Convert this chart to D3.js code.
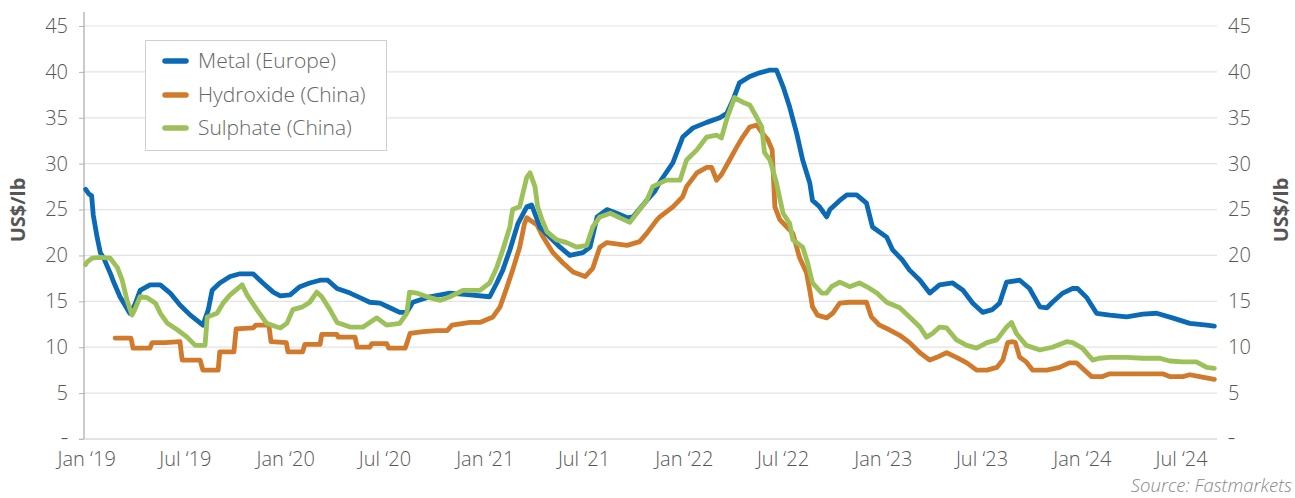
<!DOCTYPE html>
<html>
<head>
<meta charset="utf-8">
<script src="https://cdn.jsdelivr.net/npm/d3@7"></script>
<style>
  html, body { margin: 0; padding: 0; background: #fff; }
  svg { display: block; font-family: "Open Sans", sans-serif; }
</style>
</head>
<body>
<svg id="chart" width="1295" height="498"></svg>
<script>
// ---------------- DATA ----------------
const seriesNames = ["Metal (Europe)", "Hydroxide (China)", "Sulphate (China)"];
const seriesColors = ["#0a6ab6", "#d17a2b", "#9dc159"];

const metalEurope = [
  ["2018-12-31",27.2],["2019-01-06",26.7],["2019-01-11",26.5],["2019-01-14",24.4],["2019-01-21",22.0],
  ["2019-01-27",20.3],["2019-02-03",19.6],["2019-02-16",17.8],["2019-02-19",17.3],["2019-03-04",15.5],
  ["2019-03-22",13.7],["2019-03-31",14.6],["2019-04-10",16.2],["2019-04-28",16.8],["2019-05-17",16.8],
  ["2019-06-04",15.9],["2019-06-22",14.6],["2019-07-11",13.5],["2019-07-30",12.6],["2019-08-03",12.4],
  ["2019-08-13",14.1],["2019-08-20",16.2],["2019-09-03",17.0],["2019-09-22",17.7],["2019-10-10",18.0],
  ["2019-11-03",18.0],["2019-11-21",17.0],["2019-12-10",16.0],["2019-12-23",15.6],["2020-01-10",15.7],
  ["2020-01-28",16.6],["2020-02-15",17.0],["2020-03-05",17.3],["2020-03-19",17.3],["2020-04-05",16.4],
  ["2020-04-29",15.9],["2020-05-17",15.4],["2020-06-04",14.9],["2020-06-23",14.8],["2020-07-11",14.3],
  ["2020-07-29",13.8],["2020-08-11",13.8],["2020-08-22",14.9],["2020-09-22",15.5],["2020-10-29",15.9],
  ["2020-12-05",15.7],["2021-01-10",15.5],["2021-01-23",17.0],["2021-02-03",18.4],["2021-02-16",20.6],
  ["2021-03-03",23.5],["2021-03-19",25.3],["2021-03-28",25.5],["2021-04-12",23.1],["2021-04-30",22.0],
  ["2021-05-19",20.9],["2021-06-06",20.0],["2021-06-30",20.3],["2021-07-13",20.9],["2021-07-26",24.2],
  ["2021-08-13",25.0],["2021-08-31",24.6],["2021-09-19",24.1],["2021-09-30",24.2],["2021-10-25",26.0],
  ["2021-11-09",27.0],["2021-11-18",28.0],["2021-12-12",30.1],["2021-12-30",32.9],["2022-01-18",33.9],
  ["2022-02-12",34.5],["2022-03-08",35.0],["2022-03-21",35.5],["2022-04-01",36.9],["2022-04-13",38.8],
  ["2022-05-02",39.5],["2022-05-20",39.9],["2022-06-08",40.2],["2022-06-20",40.2],["2022-07-02",38.4],
  ["2022-07-14",36.2],["2022-07-27",33.3],["2022-08-07",30.4],["2022-08-20",27.9],["2022-08-25",26.0],
  ["2022-09-07",25.3],["2022-09-20",24.2],["2022-09-26",25.0],["2022-10-14",26.0],["2022-10-27",26.6],
  ["2022-11-14",26.6],["2022-12-02",25.7],["2022-12-13",23.1],["2023-01-08",22.0],["2023-01-19",20.6],
  ["2023-02-06",19.5],["2023-02-19",18.4],["2023-03-10",17.3],["2023-03-28",15.9],["2023-04-15",16.8],
  ["2023-05-09",17.0],["2023-05-28",16.2],["2023-06-15",14.8],["2023-07-03",13.8],["2023-07-21",14.1],
  ["2023-08-03",14.8],["2023-08-16",17.1],["2023-09-09",17.3],["2023-09-27",16.4],["2023-10-16",14.4],
  ["2023-10-29",14.3],["2023-11-08",14.9],["2023-11-27",15.9],["2023-12-15",16.4],["2023-12-24",16.4],
  ["2024-01-10",15.4],["2024-01-28",13.7],["2024-02-21",13.5],["2024-03-23",13.3],["2024-04-22",13.6],
  ["2024-05-17",13.7],["2024-06-15",13.2],["2024-07-17",12.6],["2024-08-17",12.4],["2024-08-31",12.3]
];

const hydroxideChina = [
  ["2019-02-23",11.0],["2019-03-24",11.0],["2019-03-28",9.9],["2019-04-28",9.9],["2019-05-02",10.5],
  ["2019-05-26",10.5],["2019-06-22",10.6],["2019-06-26",8.6],["2019-07-29",8.6],["2019-08-03",7.5],
  ["2019-08-31",7.5],["2019-09-03",9.5],["2019-09-29",9.5],["2019-10-03",12.0],["2019-11-03",12.1],
  ["2019-11-08",12.4],["2019-12-02",12.4],["2019-12-06",10.6],["2020-01-03",10.5],["2020-01-06",9.5],
  ["2020-02-02",9.5],["2020-02-06",10.3],["2020-03-05",10.3],["2020-03-08",11.4],["2020-04-05",11.4],
  ["2020-04-07",11.1],["2020-05-08",11.1],["2020-05-12",10.0],["2020-06-04",10.0],["2020-06-08",10.4],
  ["2020-07-05",10.4],["2020-07-09",9.9],["2020-08-08",9.9],["2020-08-17",11.5],["2020-09-10",11.7],
  ["2020-10-05",11.8],["2020-10-24",11.8],["2020-11-02",12.4],["2020-12-05",12.7],["2020-12-23",12.7],
  ["2021-01-16",13.3],["2021-01-29",14.4],["2021-02-11",16.6],["2021-02-21",18.4],["2021-03-06",20.9],
  ["2021-03-15",23.5],["2021-03-19",24.1],["2021-04-07",23.3],["2021-04-18",22.0],["2021-05-06",20.3],
  ["2021-05-24",19.2],["2021-06-12",18.2],["2021-07-04",17.7],["2021-07-18",18.6],["2021-07-31",20.9],
  ["2021-08-13",21.4],["2021-09-19",21.1],["2021-10-12",21.5],["2021-10-25",22.4],["2021-11-13",23.9],
  ["2021-11-18",24.2],["2021-12-12",25.3],["2021-12-30",26.4],["2022-01-06",27.5],["2022-01-25",29.0],
  ["2022-02-12",29.6],["2022-02-21",29.6],["2022-03-02",28.2],["2022-03-11",28.8],["2022-03-26",30.4],
  ["2022-04-08",31.8],["2022-04-19",32.9],["2022-05-02",34.0],["2022-05-15",34.2],["2022-05-24",33.4],
  ["2022-06-04",32.6],["2022-06-12",31.5],["2022-06-17",25.3],["2022-06-26",23.9],["2022-07-09",23.1],
  ["2022-07-20",22.4],["2022-08-01",19.8],["2022-08-14",18.1],["2022-08-20",16.2],["2022-08-25",14.4],
  ["2022-09-03",13.5],["2022-09-20",13.2],["2022-10-01",13.7],["2022-10-14",14.8],["2022-11-01",14.9],
  ["2022-12-02",14.9],["2022-12-11",13.3],["2022-12-26",12.4],["2023-01-13",11.9],["2023-02-01",11.3],
  ["2023-02-19",10.5],["2023-03-10",9.4],["2023-03-28",8.6],["2023-04-10",8.9],["2023-04-28",9.4],
  ["2023-05-16",8.9],["2023-06-04",8.3],["2023-06-22",7.5],["2023-07-11",7.5],["2023-07-29",7.8],
  ["2023-08-09",8.6],["2023-08-18",10.5],["2023-08-27",10.6],["2023-09-01",10.5],["2023-09-09",8.9],
  ["2023-09-21",8.4],["2023-10-03",7.5],["2023-10-29",7.5],["2023-11-21",7.8],["2023-12-09",8.3],
  ["2023-12-22",8.3],["2024-01-02",7.7],["2024-01-19",6.8],["2024-02-08",6.8],["2024-02-21",7.1],
  ["2024-05-28",7.1],["2024-06-10",6.8],["2024-07-04",6.8],["2024-07-17",7.0],["2024-08-04",6.8],
  ["2024-08-31",6.5]
];

const sulphateChina = [
  ["2018-12-31",19.0],["2019-01-03",19.3],["2019-01-12",19.7],["2019-01-27",19.8],["2019-02-14",19.7],
  ["2019-02-27",18.7],["2019-03-08",17.3],["2019-03-17",15.1],["2019-03-26",13.5],["2019-03-31",14.1],
  ["2019-04-10",15.5],["2019-04-23",15.4],["2019-05-08",14.8],["2019-05-17",13.7],["2019-05-30",12.6],
  ["2019-06-17",11.9],["2019-07-05",11.1],["2019-07-20",10.2],["2019-08-07",10.2],["2019-08-11",13.3],
  ["2019-08-29",13.7],["2019-09-09",14.8],["2019-09-22",15.7],["2019-10-14",16.8],["2019-10-23",15.7],
  ["2019-11-10",14.1],["2019-11-28",12.6],["2019-12-17",12.2],["2019-12-23",12.1],["2020-01-04",12.6],
  ["2020-01-15",14.1],["2020-02-02",14.4],["2020-02-15",14.9],["2020-02-28",16.0],["2020-03-08",15.5],
  ["2020-03-23",14.1],["2020-04-05",12.7],["2020-04-29",12.2],["2020-05-23",12.2],["2020-06-17",13.2],
  ["2020-07-05",12.4],["2020-07-29",12.6],["2020-08-11",13.7],["2020-08-16",16.0],["2020-08-29",15.9],
  ["2020-09-22",15.4],["2020-10-11",15.1],["2020-10-29",15.5],["2020-11-22",16.2],["2020-12-23",16.2],
  ["2021-01-10",17.0],["2021-01-23",18.7],["2021-02-03",20.6],["2021-02-16",23.1],["2021-02-21",25.0],
  ["2021-03-06",25.3],["2021-03-12",26.8],["2021-03-19",28.5],["2021-03-25",29.0],["2021-04-03",27.5],
  ["2021-04-08",25.3],["2021-04-16",23.9],["2021-04-25",22.6],["2021-05-13",21.7],["2021-05-31",21.4],
  ["2021-06-19",20.9],["2021-07-07",21.1],["2021-07-18",23.1],["2021-07-31",24.2],["2021-08-19",24.6],
  ["2021-09-06",24.1],["2021-09-24",23.6],["2021-10-12",25.0],["2021-10-25",26.0],["2021-11-05",27.5],
  ["2021-11-30",28.2],["2021-12-25",28.2],["2022-01-06",30.4],["2022-01-25",31.5],["2022-02-12",32.9],
  ["2022-03-02",33.1],["2022-03-11",32.8],["2022-03-22",35.1],["2022-04-04",37.2],["2022-04-19",36.7],
  ["2022-05-02",36.4],["2022-05-15",35.0],["2022-05-24",34.0],["2022-05-29",31.2],["2022-06-08",30.4],
  ["2022-06-20",27.9],["2022-07-02",24.6],["2022-07-14",23.5],["2022-07-20",21.7],["2022-08-07",20.9],
  ["2022-08-16",19.2],["2022-08-25",17.0],["2022-09-11",15.9],["2022-09-20",15.9],["2022-09-29",16.6],
  ["2022-10-14",17.1],["2022-11-01",16.6],["2022-11-19",17.0],["2022-12-08",16.4],["2022-12-21",15.9],
  ["2023-01-08",14.9],["2023-02-01",14.3],["2023-02-19",13.3],["2023-03-10",12.2],["2023-03-22",11.1],
  ["2023-04-02",11.5],["2023-04-15",12.2],["2023-04-28",12.1],["2023-05-16",10.8],["2023-06-04",10.2],
  ["2023-06-22",9.9],["2023-07-11",10.5],["2023-07-29",10.8],["2023-08-16",12.2],["2023-08-25",12.7],
  ["2023-09-03",11.5],["2023-09-21",10.2],["2023-10-16",9.7],["2023-11-08",10.0],["2023-12-04",10.6],
  ["2023-12-15",10.5],["2024-01-02",9.9],["2024-01-21",8.6],["2024-02-02",8.8],["2024-02-21",8.9],
  ["2024-03-23",8.9],["2024-04-22",8.8],["2024-05-23",8.8],["2024-06-10",8.5],["2024-07-04",8.4],
  ["2024-07-29",8.4],["2024-08-17",7.8],["2024-08-31",7.7]
];

const yTickValues = [0, 5, 10, 15, 20, 25, 30, 35, 40, 45];
const yTickLabels = ["–", "5", "10", "15", "20", "25", "30", "35", "40", "45"];
const xTickDates = ["2019-01-01","2019-07-01","2020-01-01","2020-07-01","2021-01-01","2021-07-01",
  "2022-01-01","2022-07-01","2023-01-01","2023-07-01","2024-01-01","2024-07-01"];
const xTickLabels = ["Jan ‘19","Jul ‘19","Jan ‘20","Jul ‘20","Jan ‘21","Jul ‘21",
  "Jan ‘22","Jul ‘22","Jan ‘23","Jul ‘23","Jan ‘24","Jul ‘24"];
const xDomain = ["2018-12-28", "2024-09-03"];
const axisTitle = "US$/lb";
const sourceText = "Source: Fastmarkets";

// ---------------- CHART ----------------
(function () {
const parse = d3.timeParse("%Y-%m-%d");
const svg = d3.select("#chart");
const pLeft = 84, pRight = 1216, pTop = 26, pBottom = 439;

const x = d3.scaleTime().domain(xDomain.map(parse)).range([pLeft, pRight]);
const y = d3.scaleLinear().domain([0, 45]).range([pBottom, pTop]);

const textColor = "#575757";
const fontSize = 20;
const fontWeight = 300;

function styleText(sel) {
  sel.attr("fill", textColor).style("font-size", fontSize + "px")
    .style("font-family", "'Open Sans', sans-serif").style("font-weight", fontWeight);
}

// gridlines
svg.append("g")
  .selectAll("line").data(yTickValues.filter(v => v > 0)).join("line")
  .attr("x1", pLeft).attr("x2", pRight + 1)
  .attr("y1", d => y(d)).attr("y2", d => y(d))
  .attr("stroke", "#e3e3e3").attr("stroke-width", 1.2);

// left axis
const yAxisL = d3.axisLeft(y).tickValues(yTickValues)
  .tickFormat((d, i) => yTickLabels[i]).tickSize(5).tickPadding(11);
const gL = svg.append("g").attr("transform", `translate(${pLeft},0)`).call(yAxisL);
gL.select(".domain").remove();
gL.selectAll(".tick line").attr("stroke", "#b5b5b5");
styleText(gL.selectAll(".tick text"));
svg.append("line").attr("x1", pLeft).attr("x2", pLeft).attr("y1", 12).attr("y2", pBottom)
  .attr("stroke", "#a8a8a8").attr("stroke-width", 1.2);

// right axis
const yAxisR = d3.axisRight(y).tickValues(yTickValues)
  .tickFormat((d, i) => yTickLabels[i]).tickSize(0).tickPadding(12);
const gR = svg.append("g").attr("transform", `translate(${pRight},0)`).call(yAxisR);
gR.select(".domain").remove();
styleText(gR.selectAll(".tick text"));

// smaller dash for the zero labels
[gL, gR].forEach(g => g.selectAll(".tick text").filter(d => d === 0)
  .style("font-size", "14px").style("font-weight", 400).attr("dy", "0.22em"));

// bottom axis
const xAxis = d3.axisBottom(x).tickValues(xTickDates.map(parse))
  .tickFormat((d, i) => xTickLabels[i]).tickSize(0).tickPadding(12.5);
const gB = svg.append("g").attr("transform", `translate(0,${pBottom})`).call(xAxis);
gB.select(".domain").remove();
styleText(gB.selectAll(".tick text"));
svg.append("line").attr("x1", pLeft - 5).attr("x2", pRight + 1).attr("y1", pBottom).attr("y2", pBottom)
  .attr("stroke", "#c8c8c8").attr("stroke-width", 1.2);

// axis titles
svg.append("text").attr("transform", "translate(25,210) rotate(-90)")
  .attr("text-anchor", "middle").attr("fill", "#555")
  .style("font-size", "20px").style("font-weight", 700).text(axisTitle);
svg.append("text").attr("transform", "translate(1288,210) rotate(-90)")
  .attr("text-anchor", "middle").attr("fill", "#555")
  .style("font-size", "20px").style("font-weight", 700).text(axisTitle);

// lines
const line = d3.line().x(d => x(parse(d[0]))).y(d => y(d[1])).curve(d3.curveLinear);
const allSeries = [metalEurope, hydroxideChina, sulphateChina];
const drawOrder = [1, 0, 2];
drawOrder.forEach(i => {
  svg.append("path").datum(allSeries[i])
    .attr("d", line).attr("fill", "none")
    .attr("stroke", seriesColors[i]).attr("stroke-width", 4.8)
    .attr("stroke-linejoin", "round").attr("stroke-linecap", "round");
});

// legend
const lg = svg.append("g");
lg.append("rect").attr("x", 145.5).attr("y", 40.5).attr("width", 241).attr("height", 110)
  .attr("fill", "#fff").attr("stroke", "#cfcfcf").attr("stroke-width", 1);
const legendY = [61, 95, 128];
seriesNames.forEach((name, i) => {
  lg.append("line").attr("x1", 165).attr("x2", 186)
    .attr("y1", legendY[i]).attr("y2", legendY[i])
    .attr("stroke", seriesColors[i]).attr("stroke-width", 5.5).attr("stroke-linecap", "round");
  lg.append("text").attr("x", 198).attr("y", legendY[i]).attr("dy", "0.35em")
    .attr("fill", "#666").style("font-size", "21px").style("font-weight", fontWeight).text(name);
});

// source
svg.append("text").attr("x", 1292).attr("y", 492).attr("text-anchor", "end")
  .attr("fill", "#888").style("font-size", "18.5px").style("font-style", "italic")
  .style("font-weight", fontWeight).text(sourceText);
})();
</script>
</body>
</html>
